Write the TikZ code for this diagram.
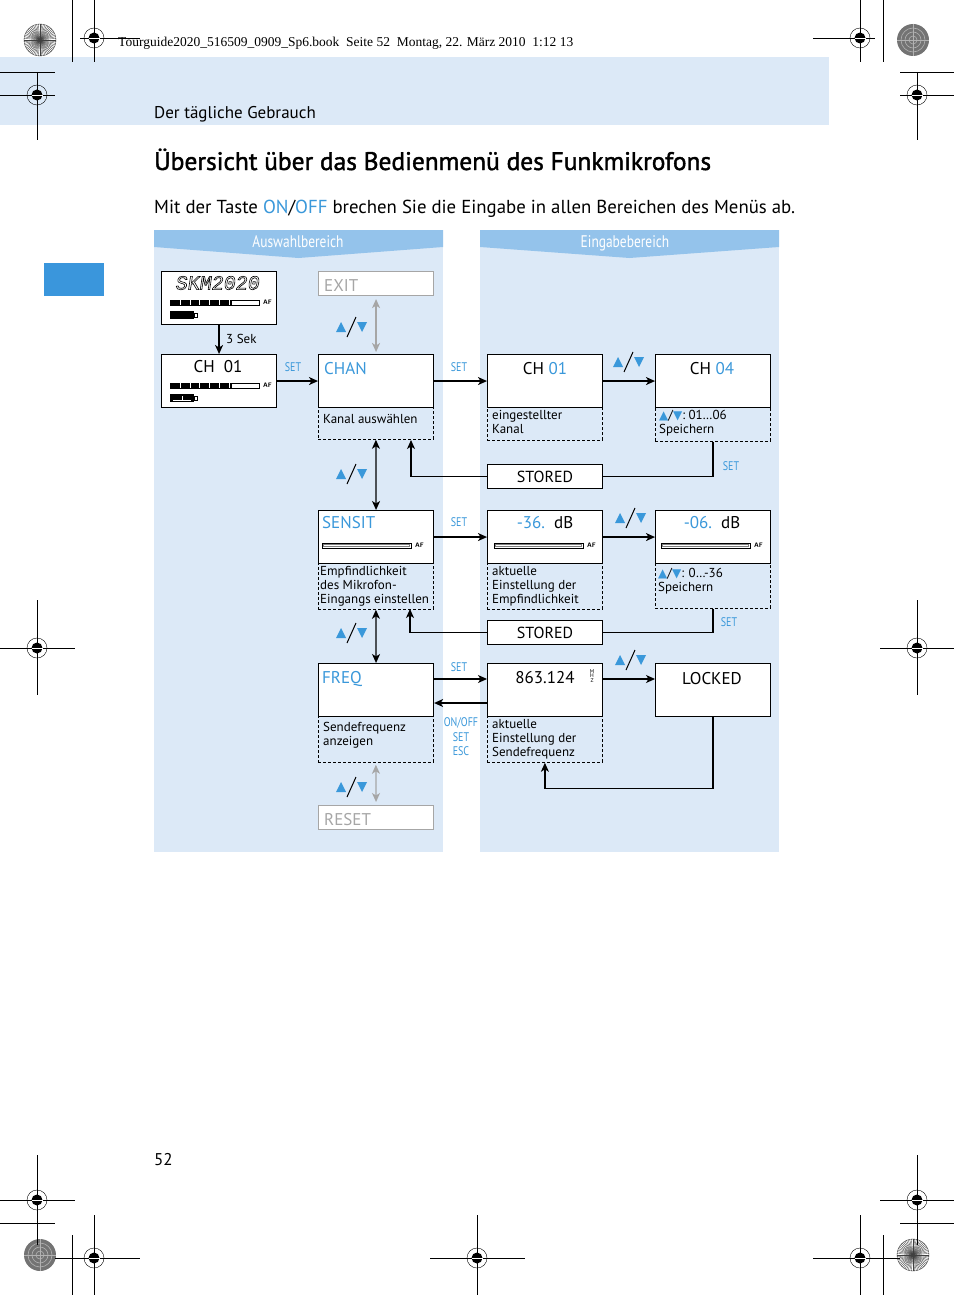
\documentclass[tikz,border=0pt]{standalone}
\usepackage{fontspec}
\setmainfont{PT Sans}
\newfontfamily\cond[FakeStretch=0.8]{PT Sans}
\newfontfamily\semib[FakeBold=1.6]{PT Sans}
\newfontfamily\tms{Liberation Serif}
\newfontfamily\sym{DejaVu Sans}
\newfontfamily\lcd[FakeSlant=0.15]{Liberation Mono}
\usetikzlibrary{arrows.meta}
\definecolor{bgblue}{HTML}{DCE9F7}
\definecolor{hdblue}{HTML}{94C3EB}
\definecolor{acc}{HTML}{3A98DA}
\definecolor{tabblue}{HTML}{3A96DC}
\definecolor{gr}{HTML}{A6A6A6}
\newcommand\fsz[1]{\fontsize{#1}{#1}\selectfont}
\newcommand\tri[1]{{\sym\fsz{12}\textcolor{acc}{#1}}}
\newcommand\lvbar[3]{%
  \draw[line width=0.5pt, fill=white] (#1,#2) rectangle ++(89,5);
  \fill (#1,#2) rectangle ++(#3,5);
  \foreach \k in {1,...,6} {\draw[line width=0.5pt, white] (#1+\k*9.9,#2) -- ++(0,5);}
  \node[anchor=west, inner sep=0, font=\sffamily\bfseries\fsz{6.5}] (af) at (#1+93,#2+2.7) {AF};
}
\newcommand\elbar[2]{%
  \draw[line width=0.5pt, fill=white] (#1,#2) rectangle ++(89,5);
  \draw[line width=0.4pt, gray] (#1+1.5,#2+1.5) rectangle ++(86,2);
  \node[anchor=west, inner sep=0, font=\sffamily\bfseries\fsz{6.5}] (af) at (#1+93,#2+2.7) {AF};
}
\newcommand\regm[2]{%
  \draw[line width=0.4pt] (#1,#2) circle (10);
  \fill (#1,#2) circle (5.5);
  \draw[white, line width=0.7pt] (#1-5.5,#2) -- (#1+5.5,#2);
}
\newcommand\starb[2]{%
  \foreach \a in {0,6,...,354} {\draw[line width=0.35pt, black!75] (#1,#2) -- ++(\a:16);}
  \draw[line width=0.4pt, black!75] (#1,#2) circle (16);
}
\newcommand\grayd[2]{%
  \fill[black!55] (#1,#2) circle (16);
  \foreach \r in {4,8,12} {\draw[black!30, line width=0.6pt] (#1,#2) circle (\r);}
  \draw[black!30, line width=0.6pt] (#1-16,#2) -- (#1+16,#2) (#1,#2-16) -- (#1,#2+16);
}
\tikzset{
  box/.style={draw, line width=1.1pt, fill=white, minimum width=115pt, minimum height=53pt, anchor=north west, inner sep=0},
  sbox/.style={draw, line width=1.1pt, fill=white, minimum width=115pt, minimum height=24pt, anchor=north west, inner sep=0},
  dbox/.style={draw, line width=0.8pt, dash pattern=on 3pt off 2pt, minimum width=115pt, anchor=north west, inner sep=0},
  tip/.tip={Stealth[length=9pt,width=8pt,inset=2.5pt]},
  arr/.style={line width=1.2pt, -tip},
  darr/.style={line width=1.2pt, tip-tip},
  ln/.style={line width=1.2pt},
  lbl/.style={inner sep=0, anchor=base west, font=\fontsize{13}{14}\selectfont, align=left},
  btxt/.style={inner sep=0, font=\fsz{17}},
  setl/.style={inner sep=0, text=acc, font=\cond\fsz{12.5}},
  mk/.style={line width=0.6pt},
  ud/.pic={
    \fill[acc] (-16,5) -- (-6,5) -- (-11,-5) -- cycle;
    \fill[acc] (5,-5) -- (15,-5) -- (10,5) -- cycle;
    \draw[line width=1pt] (-5,10) -- (4,-10);
  }
}
\begin{document}
\begin{tikzpicture}[x=1pt,y=-1pt]
\useasboundingbox (0,0) rectangle (954,1295);
\fill[white] (0,0) rectangle (954,1295);
% ---------- page header ----------
\fill[bgblue] (0,57) rectangle (829,125);
\node[anchor=base west, inner sep=0, font=\tms\fsz{13.5}] (fname) at (118,47) {Tourguide2020\_516509\_0909\_Sp6.book~~Seite 52~~Montag, 22. März 2010~~1:12 13};
\node[anchor=base west, inner sep=0, font=\fsz{17}] (sect) at (154,118) {Der tägliche Gebrauch};
\node[anchor=base west, inner sep=0, font=\semib\fsz{25.4}] (title) at (154,170) {Übersicht über das Bedienmenü des Funkmikrofons};
\node[anchor=base west, inner sep=0, font=\fsz{18.8}] (sub) at (154,213) {Mit der Taste \textcolor{acc}{ON}/\textcolor{acc}{OFF} brechen Sie die Eingabe in allen Bereichen des Menüs ab.};
\fill[tabblue] (44,263) rectangle (104,296);
\node[anchor=base west, inner sep=0, font=\fsz{17}] (pnum) at (154,1165) {52};
% ---------- panels ----------
\fill[bgblue] (154,230) rectangle (443,852);
\fill[bgblue] (480,230) rectangle (779,852);
\fill[hdblue] (154,230) -- (443,230) -- (443,247) -- (298.5,258) -- (154,247) -- cycle;
\fill[hdblue] (480,230) -- (779,230) -- (779,247) -- (629.5,258) -- (480,247) -- cycle;
\node[text=white, inner sep=0, font=\cond\fsz{16.8}, anchor=base] (h1) at (298,247) {Auswahlbereich};
\node[text=white, inner sep=0, font=\cond\fsz{16.8}, anchor=base] (h2) at (625,247) {Eingabebereich};
% ---------- dashed areas ----------
\node[dbox, minimum height=32pt] (chand) at (318,407) {};
\node[dbox, minimum height=33pt] (ch01rd) at (487,407) {};
\node[dbox, minimum height=34pt] (ch04d) at (655,407) {};
\node[dbox, minimum height=46pt] (sensitd) at (318,563) {};
\node[dbox, minimum height=46pt] (m36d) at (487,563) {};
\node[dbox, minimum height=45pt] (m06d) at (655,563) {};
\node[dbox, minimum height=46pt] (freqd) at (318,716) {};
\node[dbox, minimum height=46pt] (f863d) at (487,716) {};
% ---------- boxes ----------
\node[box] (skm) at (161,271) {};
\node[box] (ch01l) at (161,354) {};
\node[sbox, draw=gr] (exit) at (318,271) {};
\node[box] (chan) at (318,354) {};
\node[box] (ch01r) at (487,354) {};
\node[box] (ch04) at (655,354) {};
\node[sbox] (stored1) at (487,464) {};
\node[box] (sensit) at (318,510) {};
\node[box] (m36) at (487,510) {};
\node[box] (m06) at (655,510) {};
\node[sbox] (stored2) at (487,620) {};
\node[box] (freq) at (318,663) {};
\node[box] (f863) at (487,663) {};
\node[box] (locked) at (655,663) {};
\node[sbox, draw=gr] (reset) at (318,805) {};
% ---------- box contents ----------
\node[inner sep=0, font=\lcd\fsz{20}] (skmt) at (217,283) {\special{pdf:literal direct 1 Tr 0.6 w}SKM2020\special{pdf:literal direct 0 Tr}};
\lvbar{170}{300}{62}
\fill (170,311) rectangle (194,319);
\draw[line width=0.6pt] (194,313) rectangle (197,317);
\node[btxt, anchor=base] (ch01lt) at (218,372) {CH\ \ 01};
\lvbar{170}{383}{62}
\fill (170,394) rectangle (194,402);
\draw[white, line width=0.8pt] (173,400) -- (191,400);
\draw[white, line width=0.8pt] (182,396) -- (182,400);
\draw[line width=0.6pt] (194,396) rectangle (197,400);
\node[btxt, anchor=base west, text=gr] (exitt) at (324,291) {EXIT};
\node[btxt, anchor=base west, text=acc] (chant) at (324,374) {CHAN};
\node[btxt, anchor=base] (ch01rt) at (545,374) {CH \textcolor{acc}{01}};
\node[btxt, anchor=base] (ch04t) at (712,374) {CH \textcolor{acc}{04}};
\node[btxt, anchor=base, font=\fsz{16}] (st1t) at (545,482) {STORED};
\node[btxt, anchor=base west, text=acc] (sensitt) at (322,528) {SENSIT};
\elbar{322}{543}
\node[btxt, anchor=base] (m36t) at (545,528) {\textcolor{acc}{-36.}\ \ dB};
\elbar{494}{543}
\node[btxt, anchor=base] (m06t) at (712,528) {\textcolor{acc}{-06.}\ \ dB};
\elbar{661}{543}
\node[btxt, anchor=base, font=\fsz{16}] (st2t) at (545,638) {STORED};
\node[btxt, anchor=base west, text=acc] (freqt) at (322,683) {FREQ};
\node[btxt, anchor=base] (f863t) at (545,683) {863.124};
\node[inner sep=0, font=\fsz{5.5}, align=center] (mhz) at (592,676) {M\\[-1pt]H\\[-1pt]Z};
\node[btxt, anchor=base] (lockedt) at (712,684) {LOCKED};
\node[btxt, anchor=base west, text=gr] (resett) at (324,825) {RESET};
% ---------- dashed area texts (anchor = baseline of last line) ----------
\node[lbl] (l1) at (323,423) {Kanal auswählen};
\node[lbl] (l2) at (492,433) {eingestellter\\Kanal};
\node[lbl] (l3) at (659,433) {\tri{▲}/\tri{▼}:\ 01…06\\Speichern};
\node[lbl] (l4) at (320,603) {Empfindlichkeit\\des Mikrofon-\\Eingangs einstellen};
\node[lbl] (l5) at (492,603) {aktuelle\\Einstellung der\\Empfindlichkeit};
\node[lbl] (l6) at (658,591) {\tri{▲}/\tri{▼}: 0…-36\\Speichern};
\node[lbl] (l7) at (323,745) {Sendefrequenz\\anzeigen};
\node[lbl] (l8) at (492,756) {aktuelle\\Einstellung der\\Sendefrequenz};
% ---------- connectors ----------
\coordinate (c1) at (411,440);
\coordinate (c2) at (410,609);
\coordinate (fy1) at (0,679);
\coordinate (fy2) at (0,703);
\draw[arr] (skm.south) -- (ch01l.north);
\node[inner sep=0, font=\fsz{13}, anchor=base west] (sek) at (226,343) {3 Sek};
\draw[arr] (ch01l.east) -- (chan.west);
\draw[arr] (chan.east) -- (ch01r.west);
\draw[arr] (ch01r.east) -- (ch04.west);
\draw[darr, gr] ([yshift=-3pt]exit.south) -- ([yshift=2pt]chan.north);
\draw[ln] (ch04d.south) |- (stored1.east);
\draw[arr] (stored1.west) -| (c1);
\draw[darr] (chand.south) -- (sensit.north);
\draw[arr] (sensit.east) -- (m36.west);
\draw[arr] (m36.east) -- (m06.west);
\draw[ln] (m06d.south) |- (stored2.east);
\draw[arr] (stored2.west) -| (c2);
\draw[darr] (sensitd.south) -- (freq.north);
\draw[arr] (freq.east |- fy1) -- (f863.west |- fy1);
\draw[arr] (f863.west |- fy2) -- (freq.east |- fy2);
\draw[arr] (f863.east |- fy1) -- (locked.west |- fy1);
\draw[arr] (locked.south) -- ++(0,71) -| (f863d.south);
\draw[darr, gr] ([yshift=-2pt]freqd.south) -- ([yshift=3pt]reset.north);
% ---------- connector labels ----------
\node[setl] (s1) at (293,367) {SET};
\node[setl] (s2) at (459,367) {SET};
\node[setl] (s3) at (731,466) {SET};
\node[setl] (s4) at (459,522) {SET};
\node[setl] (s5) at (729,622) {SET};
\node[setl] (s6) at (459,667) {SET};
\node[setl, align=center, font=\cond\fsz{12.5}] (s7) at (461,737) {ON/OFF\\[2pt]SET\\[2pt]ESC};
\pic (u1) at (352,327) {ud};
\pic (u2) at (352,474) {ud};
\pic (u3) at (352,633) {ud};
\pic (u4) at (352,787) {ud};
\pic (u5) at (629,362) {ud};
\pic (u6) at (631,518) {ud};
\pic (u7) at (631,660) {ud};
% ---------- printer marks ----------
\starb{40}{40}
\grayd{913}{40}
\grayd{40}{1255}
\starb{913}{1255}
\draw[mk] (72,0) -- (72,62);
\draw[mk] (883,0) -- (883,62);
\draw[mk] (0,72) -- (55,72);
\draw[mk] (900,72) -- (954,72);
\draw[mk] (0,1223) -- (55,1223);
\draw[mk] (900,1223) -- (954,1223);
\draw[mk] (72,1235) -- (72,1295);
\draw[mk] (883,1235) -- (883,1295);
\draw[mk] (80,38) -- (140,38) (94,0) -- (94,62);
\draw[mk] (813,38) -- (875,38) (860,0) -- (860,62);
\draw[mk] (0,95) -- (55,95) (37,72) -- (37,140);
\draw[mk] (900,95) -- (954,95) (917,72) -- (917,140);
\draw[mk] (0,648) -- (75,648) (37,600) -- (37,695);
\draw[mk] (880,648) -- (954,648) (917,600) -- (917,695);
\draw[mk] (0,1200) -- (75,1200) (37,1155) -- (37,1245);
\draw[mk] (880,1200) -- (954,1200) (917,1155) -- (917,1245);
\draw[mk] (55,1258) -- (140,1258) (94,1215) -- (94,1295);
\draw[mk] (430,1258) -- (525,1258) (477,1215) -- (477,1295);
\draw[mk] (813,1258) -- (900,1258) (860,1215) -- (860,1295);
\regm{94}{38}
\regm{860}{38}
\regm{37}{95}
\regm{917}{95}
\regm{37}{648}
\regm{917}{648}
\regm{37}{1200}
\regm{917}{1200}
\regm{94}{1258}
\regm{477}{1258}
\regm{860}{1258}
\end{tikzpicture}
\end{document}
